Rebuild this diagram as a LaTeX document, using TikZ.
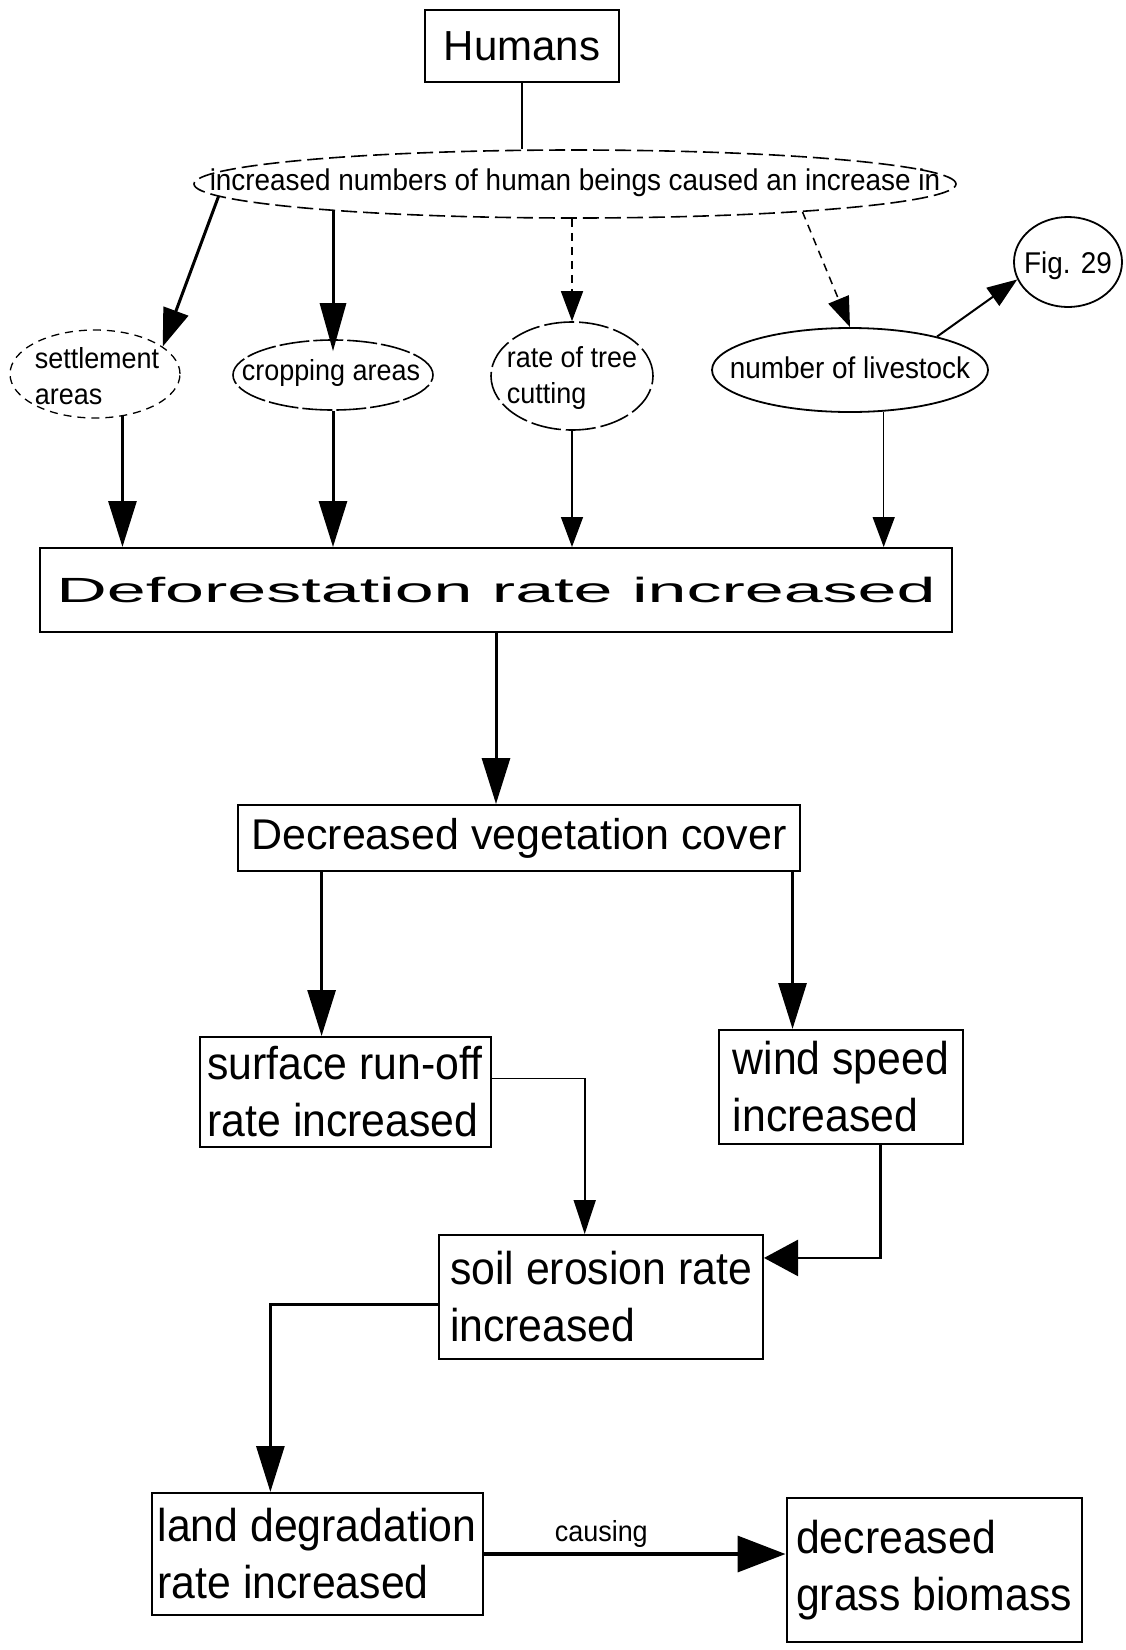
\documentclass[tikz,border=0pt]{standalone}
\usepackage{fontspec}
\setmainfont{Liberation Sans}
\newfontfamily\cf[FakeStretch=0.93]{Liberation Sans}
\usetikzlibrary{arrows.meta,calc,shapes.geometric}
\tikzset{
  box/.style={draw, rectangle, line width=2pt, inner sep=0pt},
  tbox/.style={box, align=left, font=\cf\fontsize{46}{57}\selectfont},
  ell/.style={draw, ellipse, inner sep=0pt, line width=1.6pt},
  etext/.style={font=\cf\fontsize{29}{36}\selectfont, inner sep=0pt},
  arrA/.style={line width=3pt, -{Triangle[length=46pt,width=28pt]}},
  arrB/.style={line width=1.5pt, -{Triangle[length=30pt,width=22pt]}},
  arrC/.style={line width=1.6pt, -{Triangle[length=34pt,width=22pt]}},
  arrW/.style={line width=2.4pt, -{Triangle[length=34pt,width=36pt]}},
}
\begin{document}
\begin{tikzpicture}[x=1pt,y=-1pt]
\fill[white] (0,0) rectangle (1126,1650);
\useasboundingbox (0,0) rectangle (1126,1650);

% top
\node[box, minimum width=194pt, minimum height=72pt, font=\fontsize{42}{42}\selectfont] (humans) at (522,46) {Humans};
\node[ell, dash pattern=on 16pt off 6pt, minimum width=762pt, minimum height=68pt] (main) at (575,184) {};
\node[font=\cf\fontsize{30}{30}\selectfont, inner sep=0pt] (maintext) at (575,183) {increased numbers of human beings caused an increase in};

% second row ellipses
\node[ell, dash pattern=on 8pt off 6pt, line width=1.3pt, minimum width=170pt, minimum height=88pt] (settle) at (95,374) {};
\node[etext, align=left] (settletext) at (97,376) {settlement\\areas};
\node[ell, dash pattern=on 30pt off 4pt, minimum width=200pt, minimum height=70pt] (crop) at (333,375) {};
\node[etext] (croptext) at (331,373) {cropping areas};
\node[ell, dash pattern=on 30pt off 5pt, minimum width=162pt, minimum height=108pt] (tree) at (572,376) {};
\node[etext, align=left] (treetext) at (572,378) {rate of tree\\cutting};
\node[ell, line width=1.8pt, minimum width=276pt, minimum height=84pt] (live) at (850,370) {};
\node[etext, font=\cf\fontsize{30}{30}\selectfont] (livetext) at (850,368) {number of livestock};
\node[ell, line width=1.8pt, minimum width=108pt, minimum height=90pt] (fig) at (1068,262) {};
\node[etext, font=\cf\fontsize{30}{30}\selectfont] (figtext) at (1068,266) {Fig. 29};

% boxes
\node[box, minimum width=912pt, minimum height=84pt] (defor) at (496,590)
  {\scalebox{2.0}[1]{\fontsize{35}{35}\selectfont Deforestation rate increased}};
\node[box, minimum width=562pt, minimum height=66pt, font=\fontsize{43}{43}\selectfont] (veg) at (519,838) {Decreased vegetation cover};
\node[tbox, minimum width=291pt, minimum height=110pt] (surf) at (345,1092) {surface run-off\\rate increased};
\node[tbox, minimum width=244pt, minimum height=114pt] (wind) at (841,1087) {wind speed\\increased};
\node[tbox, minimum width=324pt, minimum height=124pt] (soil) at (601,1297) {soil erosion rate\\increased};
\node[tbox, minimum width=331pt, minimum height=122pt] (land) at (317,1554) {land degradation\\rate increased};
\node[tbox, minimum width=295pt, minimum height=144pt] (grass) at (934,1570) {decreased\\grass biomass};

% connectors top
\draw[line width=1.6pt] (humans.south) -- (humans.south |- main.north);
\draw[arrA, -{Triangle[length=38pt,width=26pt]}] (main.182) -- (settle.22);
\draw[arrA, -{Triangle[length=48pt,width=26pt]}, shorten >=-12pt] (main.186 -| crop.north) -- (crop.north);
\draw[arrB, dash pattern=on 8pt off 6pt] (main.south -| tree.north) -- (tree.north);
\draw[arrB, dash pattern=on 8pt off 6pt] (main.-7) -- (live.north);
\draw[arrB, line width=2pt] (live.21) -- (fig.199);

% down to deforestation
\draw[arrA] (settle.-57) -- (settle.-57 |- defor.north);
\draw[arrA] (crop.south) -- (crop.south |- defor.north);
\draw[arrB] (tree.south) -- (tree.south |- defor.north);
\draw[arrB] (live.-51) -- (live.-51 |- defor.north);

% lower part
\draw[arrA] (defor.south) -- (defor.south |- veg.north);
\coordinate (v1) at ($(veg.south west)!0.15!(veg.south east)$);
\draw[arrA] (v1) -- (v1 |- surf.north);
\coordinate (v2) at ($(veg.south west)!0.985!(veg.south east)$);
\draw[arrA] (v2) -- (v2 |- wind.north);
\coordinate (s1) at ($(surf.north east)!0.38!(surf.south east)$);
\coordinate (s2) at ($(soil.north west)!0.45!(soil.north east)$);
\draw[arrC] (s1) -| (s2);
\coordinate (w1) at ($(wind.south west)!0.66!(wind.south east)$);
\coordinate (w2) at ($(soil.north east)!0.19!(soil.south east)$);
\draw[arrW] (w1) |- (w2);
\coordinate (e1) at ($(soil.north west)!0.56!(soil.south west)$);
\coordinate (e2) at ($(land.north west)!0.36!(land.north east)$);
\draw[arrA] (e1) -| (e2);
\draw[line width=3.5pt, -{Triangle[length=48pt,width=36pt]}] (land.east) -- (land.east -| grass.west)
  node[pos=0.39, above, inner sep=5pt, font=\cf\fontsize{29}{29}\selectfont] (causing) {causing};
\end{tikzpicture}
\end{document}
